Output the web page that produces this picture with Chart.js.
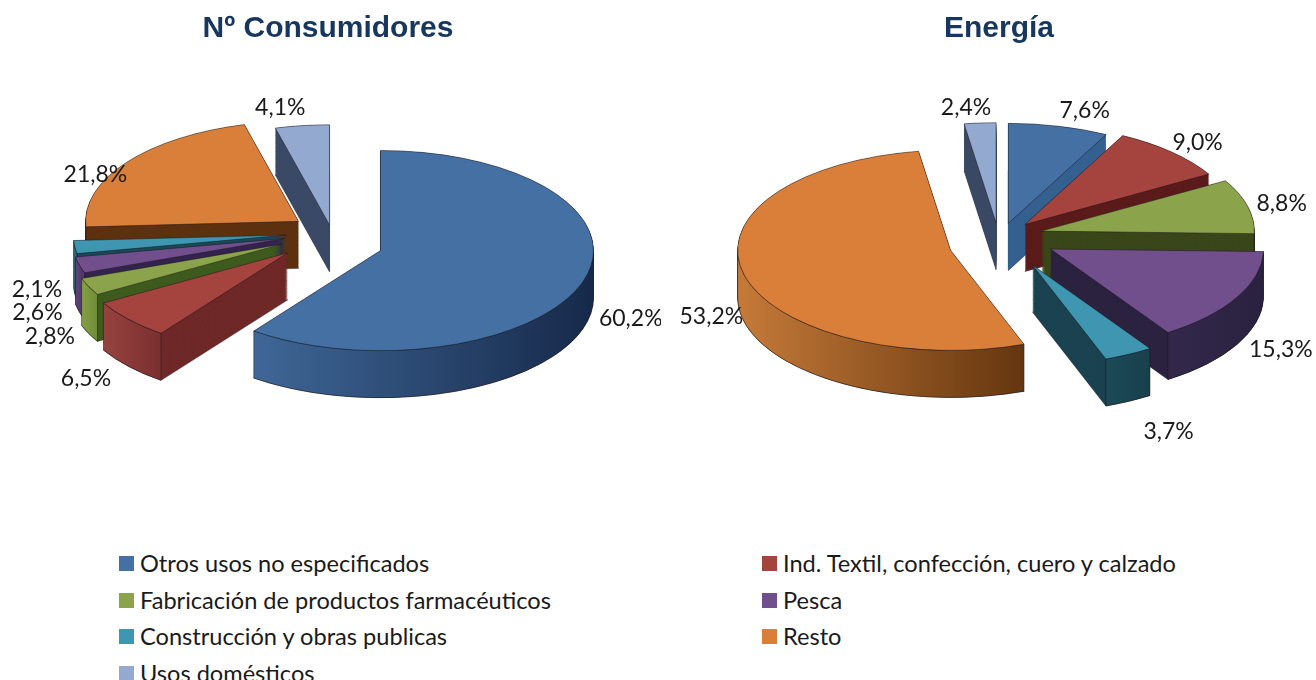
<!DOCTYPE html>
<html lang="es">
<head>
<meta charset="utf-8">
<title>Consumidores y energía</title>
<script src="https://cdn.jsdelivr.net/npm/chart.js@4"></script>
<style>
    html, body { margin: 0; padding: 0; background: #fff; overflow: hidden; }
    body { position: relative; width: 1316px; height: 680px; }
    canvas { position: absolute; top: 0; }
    #chartLeft { left: -5px; }
    #chartRight { left: 670px; }
    .item { position: absolute; font: 23.6px Lato, sans-serif; color: #1a1a1a; line-height: 28px; white-space: nowrap; }
    .item i { position: absolute; left: -21px; top: 7px; width: 15px; height: 15px; }
</style>
</head>
<body>
<canvas id="chartLeft" width="666" height="540"></canvas>
<canvas id="chartRight" width="646" height="540"></canvas>
<div id="legend"></div>

<script>
// Дані
const categories = [
    'Otros usos no especificados',
    'Ind. Textil, confección, cuero y calzado',
    'Fabricación de productos farmacéuticos',
    'Pesca',
    'Construcción y obras publicas',
    'Resto',
    'Usos domésticos'
];
const consumidores = [60.2, 6.5, 2.8, 2.6, 2.1, 21.8, 4.1];
const energia = [7.6, 9.0, 8.8, 15.3, 3.7, 53.2, 2.4];

// Кольори
const topColors = ['#4470a3', '#a5433f', '#8ba34a', '#714f8d', '#3e96b0', '#d97f3a', '#93a9cf'];

const cutLeft = ['#2a4a70', '#6f2928', '#3f5c1f', '#35244f', '#1b4a58', '#5e3210', '#3b4a66'];
const wallLeft = [['#3f6797', '#16294a'], ['#964340', '#7a2f2e'], ['#85a045', '#6f8c38'], ['#5e4478', '#4a3562'],
    ['#2f7387', '#245c6c'], ['#8c4f1e', '#5e3210'], ['#3b4a66', '#2f3c54']];
const cutRight = ['#34608f', '#5c1c1c', '#3a471a', '#2c2340', '#1a4250', '#5e3210', '#3b4a66'];
const wallRight = [['#3f6797', '#2f5a8a'], ['#7a2f2e', '#5c1c1c'], ['#4a5a20', '#3a471a'], ['#33284a', '#2a2140'],
    ['#1c4a58', '#183f4c'], ['#c57a38', '#64360f'], ['#3b4a66', '#2f3c54']];

// Зсув підписів від краю сектора
const nudgeLeft = [[48, 37], [-51, 53], [-45, 41], [-42, 37], [-35, 31.5], [-25, 4], [-19, -13]];
const nudgeRight = [[23, -12], [16, -10], [26, -9], [50, 46], [50, 77], [-31, 42], [-13, -11]];

// Поправка на перспективу: канва не вміє її, тому трохи рухаємо сектори
const shiftLeft = [[0, 0], [-8, -6], [-6, -9], [0, -11], [3, -11], [6, -8], [3, 5]];
const shiftRight = [[-3, 4], [-10, -1], [-8, -6], [6, -6], [10, 0], [2, 1], [1, 4]];

const RADIUS = 213;
const SQUASH = 0.47;
const DEPTH = 47;
const EXPLODE_LEFT = 50;
const EXPLODE_RIGHT = 52;
const EDGE = 'rgba(25, 20, 25, 0.65)';
const TAU = Math.PI * 2;

// Нижня частина дуги (тільки вона видима як зовнішня стінка)
function frontArc(start, end) {
    let s = start;
    let e = end;
    if (s < 0 && e > 0) { s = 0; }
    if (s < 0) { s += TAU; e += TAU; }
    if (s >= Math.PI) {
        if (e <= TAU) return null;
        return [TAU, Math.min(e, TAU + Math.PI)];
    }
    e = Math.min(e, Math.PI);
    return e > s ? [s, e] : null;
}

function pie3d(explode, cuts, walls, nudges, shifts, canvasShift) {
    return {
        id: 'pie3d',
        afterDatasetsUpdate(chart) {
            // Розсуваємо сектори від центру
            chart.getDatasetMeta(0).data.forEach((el, i) => {
                const mid = (el.startAngle + el.endAngle) / 2;
                el.x += Math.cos(mid) * explode + shifts[i][0] + canvasShift;
                el.y += Math.sin(mid) * explode + shifts[i][1] / SQUASH;
            });
        },
        beforeDatasetsDraw(chart) {
            const ctx = chart.ctx;
            const arcs = chart.getDatasetMeta(0).data;
            const cy = chart.chartArea.top + chart.chartArea.height / 2;
            ctx.save();
            ctx.translate(0, cy);
            ctx.scale(1, SQUASH);
            ctx.translate(0, -cy);

            const order = arcs.map((el, i) => i).sort((a, b) => {
                const ma = (arcs[a].startAngle + arcs[a].endAngle) / 2;
                const mb = (arcs[b].startAngle + arcs[b].endAngle) / 2;
                return Math.sin(ma) - Math.sin(mb);
            });

            order.forEach((i) => {
                const el = arcs[i];
                const saved = el.options;
                const dz = DEPTH / SQUASH;

                // Бічні зрізи: той самий сектор, зсунутий вниз. Контур низу малюємо першим
                ctx.save();
                ctx.translate(0, dz);
                el.options = Object.assign({}, saved, { backgroundColor: cuts[i], borderWidth: 1 });
                el.draw(ctx);
                ctx.restore();
                el.options = Object.assign({}, saved, { backgroundColor: cuts[i], borderWidth: 0 });
                for (let z = dz - 1.5; z > 0; z -= 1) {
                    ctx.save();
                    ctx.translate(0, z);
                    el.draw(ctx);
                    ctx.restore();
                }
                el.options = saved;

                // Зовнішня стінка з горизонтальним градієнтом
                const range = frontArc(el.startAngle, el.endAngle);
                if (!range) return;
                const xs = [Math.cos(range[0]), Math.cos(range[1])].map((c) => el.x + c * RADIUS);
                if (range[0] <= Math.PI && range[1] >= Math.PI) xs.push(el.x - RADIUS);
                if (range[0] <= 0 || range[0] === TAU) xs.push(el.x + RADIUS);
                const g = ctx.createLinearGradient(Math.min(...xs), 0, Math.max(...xs), 0);
                g.addColorStop(0, walls[i][0]);
                g.addColorStop(1, walls[i][1]);
                ctx.beginPath();
                ctx.arc(el.x, el.y, RADIUS, range[0], range[1]);
                ctx.arc(el.x, el.y + dz, RADIUS, range[1], range[0], true);
                ctx.closePath();
                ctx.fillStyle = g;
                ctx.fill();
                ctx.strokeStyle = EDGE;
                ctx.lineWidth = 1;
                ctx.stroke();
            });
        },
        afterDatasetsDraw(chart) {
            const ctx = chart.ctx;
            ctx.restore();

            // Підписи
            const meta = chart.getDatasetMeta(0);
            const values = chart.data.datasets[0].data;
            const cy = chart.chartArea.top + chart.chartArea.height / 2;
            const cx = chart.chartArea.left + chart.chartArea.width / 2 + canvasShift;
            ctx.save();
            ctx.font = '23px Lato, sans-serif';
            ctx.fillStyle = '#1a1a1a';
            ctx.textAlign = 'center';
            ctx.textBaseline = 'middle';
            meta.data.forEach((el, i) => {
                const mid = (el.startAngle + el.endAngle) / 2;
                const dist = RADIUS + explode;
                const px = cx + Math.cos(mid) * dist + nudges[i][0];
                const py = cy + Math.sin(mid) * dist * SQUASH + nudges[i][1];
                ctx.fillText(values[i].toFixed(1).replace('.', ',') + '%', px, py);
            });
            ctx.restore();
        }
    };
}

function makeChart(id, title, values, explode, cuts, walls, nudges, shifts, padLeft, canvasShift) {
    return new Chart(document.getElementById(id), {
        type: 'pie',
        data: {
            labels: categories,
            datasets: [{
                data: values,
                backgroundColor: topColors,
                borderColor: EDGE,
                borderWidth: 1,
                clip: false
            }]
        },
        options: {
            responsive: false,
            animation: false,
            events: [],
            radius: RADIUS,
            layout: { padding: { left: padLeft, bottom: 106 } },
            plugins: {
                legend: { display: false },
                tooltip: { enabled: false },
                title: {
                    display: true,
                    text: title,
                    color: '#17375e',
                    font: { family: '"Liberation Sans", Arial, sans-serif', size: 30, weight: 'bold' },
                    padding: { top: 11, bottom: 5.4 }
                }
            }
        },
        plugins: [pie3d(explode, cuts, walls, nudges, shifts, canvasShift)]
    });
}

window.addEventListener('load', function () {
    makeChart('chartLeft', 'Nº Consumidores', consumidores, EXPLODE_LEFT, cutLeft, wallLeft, nudgeLeft, shiftLeft, 0, 5);
    makeChart('chartRight', 'Energía', energia, EXPLODE_RIGHT, cutRight, wallRight, nudgeRight, shiftRight, 12, 0);

    // Легенда спільна для обох діаграм
    const legend = document.getElementById('legend');
    categories.forEach((name, i) => {
        const row = document.createElement('div');
        row.className = 'item';
        row.style.left = (i % 2 === 0 ? 140 : 783) + 'px';
        row.style.top = (549 + Math.floor(i / 2) * 36.7) + 'px';
        const box = document.createElement('i');
        box.style.background = topColors[i];
        row.appendChild(box);
        row.appendChild(document.createTextNode(name));
        legend.appendChild(row);
    });
});
</script>
</body>
</html>
